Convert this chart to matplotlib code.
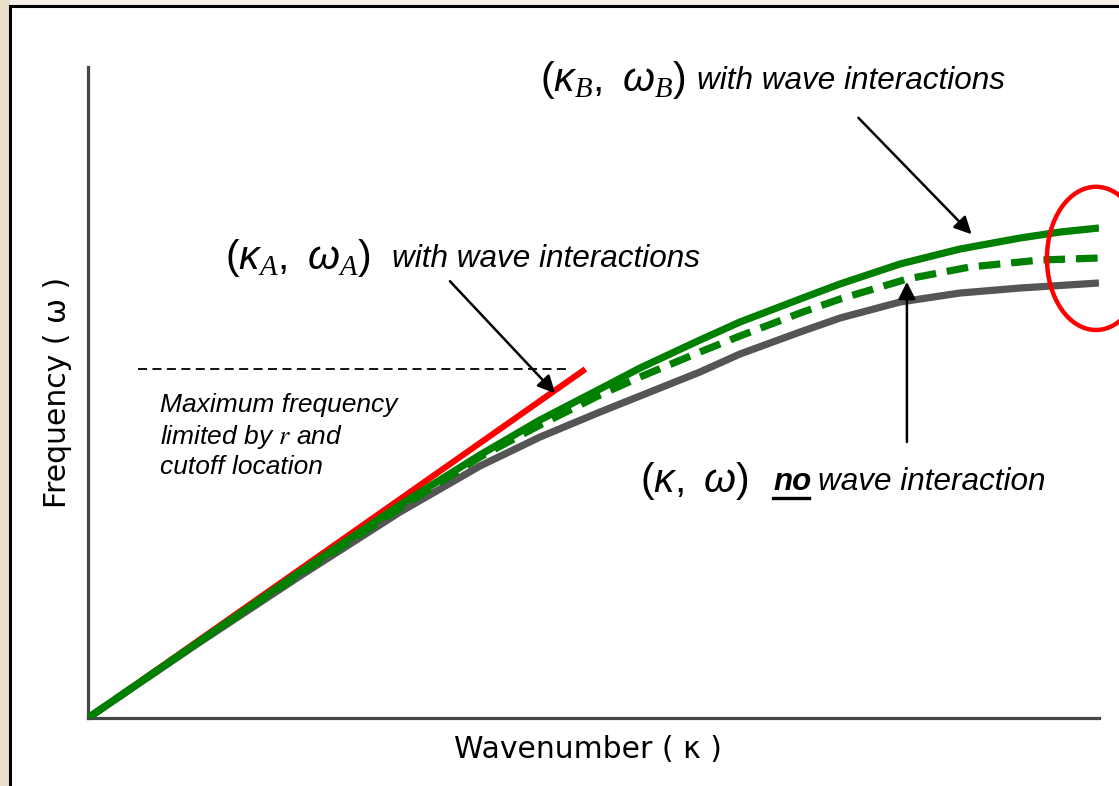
import numpy as np
import matplotlib
matplotlib.use("Agg")
import matplotlib.pyplot as plt
from matplotlib.patches import Rectangle, Ellipse

# Dispersion curves (wavenumber kappa, frequency omega), axes 0..10
kappa_gray = [0.0, 1.108, 2.097, 3.086, 3.877, 4.471, 5.064, 5.460, 6.053, 6.449,
              7.043, 7.438, 8.032, 8.625, 9.219, 10.0]
omega_gray = [0.0, 1.167, 2.181, 3.164, 3.871, 4.316, 4.700, 4.946, 5.315, 5.591,
              5.929, 6.144, 6.390, 6.528, 6.605, 6.682]

kappa_green = [0.0, 1.108, 2.097, 3.086, 3.877, 4.471, 5.064, 5.460, 6.053, 6.449,
               7.043, 7.438, 8.032, 8.625, 9.219, 9.614, 10.0]
omega_green = [0.0, 1.183, 2.243, 3.272, 4.040, 4.578, 5.054, 5.376, 5.806, 6.083,
               6.436, 6.667, 6.974, 7.204, 7.373, 7.465, 7.527]

kappa_dash = [0.0, 1.108, 2.097, 3.086, 3.877, 4.471, 5.064, 5.460, 6.053, 6.449,
              7.043, 7.438, 8.101, 8.724, 9.417, 10.0]
omega_dash = [0.0, 1.183, 2.212, 3.226, 4.009, 4.501, 4.962, 5.238, 5.622, 5.868,
              6.221, 6.436, 6.743, 6.928, 7.035, 7.066]

kappa_red = [0.0, 4.92]
omega_red = [0.0, 5.36]

omega_max = 5.36
cutoff_x = [0.49, 4.75]

W, H = 1119, 786
fig = plt.figure(figsize=(W / 100, H / 100), dpi=100, facecolor="#f4f0e8")


def fx(px):
    return px / W


def fy(py):
    return 1 - py / H


# page frame like the slide it came from
fig.patches.append(Rectangle((0, 0), fx(10), 1, transform=fig.transFigure,
                             facecolor="#e9e0cc", edgecolor="none", zorder=-10))
fig.patches.append(Rectangle((fx(10), -0.05), 1.1, fy(6) + 0.05, transform=fig.transFigure,
                             facecolor="white", edgecolor="black", linewidth=2.2, zorder=-9))

ax = fig.add_axes([fx(88), fy(718), fx(1099) - fx(88), fy(67) - fy(718)])
ax.set_zorder(1)
ax.set_facecolor("none")
ax.set_xlim(0, 10)
ax.set_ylim(0, 10)
for s in ["top", "right"]:
    ax.spines[s].set_visible(False)
for s in ["left", "bottom"]:
    ax.spines[s].set_color("#454545")
    ax.spines[s].set_linewidth(2.3)
ax.set_xticks([])
ax.set_yticks([])

ax.plot(kappa_red, omega_red, color="#ff0000", lw=4.4, solid_capstyle="butt", zorder=2)
ax.plot(kappa_gray, omega_gray, color="#555555", lw=5.2, solid_capstyle="butt",
        solid_joinstyle="round", zorder=3)
ax.plot(kappa_dash, omega_dash, color="#008000", lw=5.2, linestyle=(0, (3.0, 1.5)),
        dash_joinstyle="round", zorder=4)
ax.plot(kappa_green, omega_green, color="#008000", lw=5.2, solid_capstyle="butt",
        solid_joinstyle="round", zorder=5)

ax.plot(cutoff_x, [omega_max, omega_max], color="black", lw=1.3, linestyle=(0, (5, 3)), zorder=2)

ell = Ellipse((9.97, 7.06), 0.97, 2.2, fill=False, edgecolor="#ff0000", lw=3.2,
              clip_on=False, zorder=6)
ax.add_patch(ell)

arrow = dict(arrowstyle="-|>", color="black", lw=1.8, mutation_scale=26, shrinkA=0, shrinkB=0)
ax.annotate("", xy=(4.62, 4.99), xytext=(3.58, 6.71), arrowprops=arrow, zorder=7)
ax.annotate("", xy=(8.74, 7.43), xytext=(7.62, 9.22), arrowprops=arrow,
            annotation_clip=False, zorder=7)
ax.annotate("", xy=(8.10, 6.70), xytext=(8.10, 4.24), arrowprops=arrow, zorder=7)

plt.rcParams["mathtext.fontset"] = "custom"
plt.rcParams["mathtext.rm"] = "Liberation Sans"
plt.rcParams["mathtext.it"] = "Liberation Sans:italic"
plt.rcParams["mathtext.cal"] = "Liberation Serif:italic"

sans = "Liberation Sans"
# axis labels
fig.text(fx(588), fy(750), "Wavenumber ( \u03ba )", family="DejaVu Sans", fontsize=21.5,
         ha="center", va="center")
fig.text(fx(57), fy(392), "Frequency ( \u03c9 )", family="DejaVu Sans", fontsize=21.5,
         rotation=90, ha="center", va="center")

# annotations
fig.text(fx(540), fy(80), r"$(\kappa_{\mathcal{B}},\ \omega_{\mathcal{B}})$", fontsize=29.5,
         ha="left", va="center")
fig.text(fx(697), fy(81), "with wave interactions", family=sans, style="italic",
         fontsize=22.7, ha="left", va="center")

fig.text(fx(225), fy(258), r"$(\kappa_{\mathcal{A}},\ \omega_{\mathcal{A}})$", fontsize=29.5,
         ha="left", va="center")
fig.text(fx(392), fy(259), "with wave interactions", family=sans, style="italic",
         fontsize=22.7, ha="left", va="center")

fig.text(fx(640), fy(481), r"$(\kappa,\ \omega)$", fontsize=29.5, ha="left", va="center")
fig.text(fx(773), fy(482), "no", family=sans, style="italic", weight="bold",
         fontsize=22.5, ha="left", va="center")
fig.lines.append(plt.Line2D([fx(773), fx(809)], [fy(498), fy(498)], transform=fig.transFigure,
                            color="black", lw=2.4))
fig.text(fx(818), fy(482), "wave interaction", family=sans, style="italic",
         fontsize=22.7, ha="left", va="center")

fig.text(fx(160), fy(405), "Maximum frequency", family=sans, style="italic",
         fontsize=19, ha="left", va="center")
fig.text(fx(160), fy(437), r"limited by $r$ and", family=sans, style="italic",
         fontsize=19, ha="left", va="center", math_fontfamily="stix")
fig.text(fx(160), fy(467), "cutoff location", family=sans, style="italic",
         fontsize=19, ha="left", va="center")

fig.savefig("out.png", dpi=100, facecolor=fig.get_facecolor())
